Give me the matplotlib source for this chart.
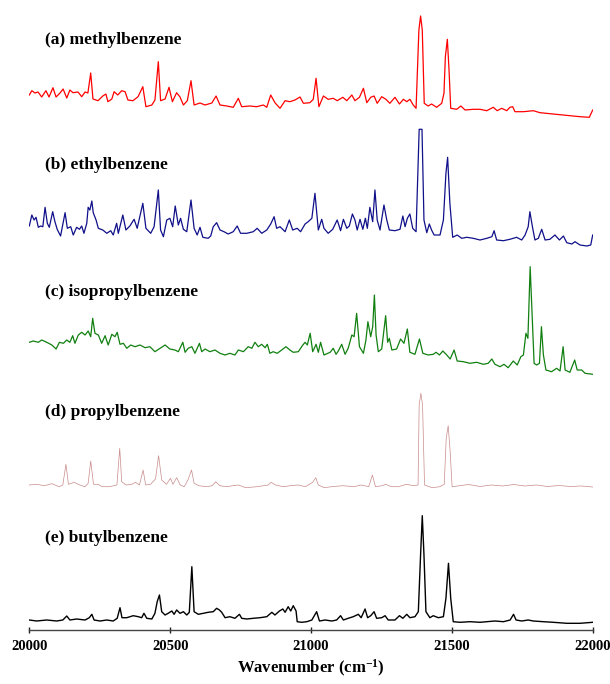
import matplotlib
matplotlib.use('Agg')
import matplotlib.pyplot as plt

plt.rcParams['font.family'] = ['Liberation Serif', 'DejaVu Serif']
plt.rcParams['font.weight'] = 'bold'
plt.rcParams['mathtext.fontset'] = 'custom'
plt.rcParams['mathtext.bf'] = 'Liberation Serif:bold'
plt.rcParams['mathtext.rm'] = 'Liberation Serif:bold'
plt.rcParams['mathtext.default'] = 'bf'

# (a) methylbenzene
a_wn = [20000, 20009, 20020, 20031, 20044, 20059, 20070, 20084, 20095, 20109, 20120, 20133, 20144, 20155,
        20173, 20186, 20198, 20208, 20218, 20226, 20244, 20261, 20272, 20279, 20293, 20301, 20314, 20328,
        20340, 20350, 20368, 20386, 20403, 20414, 20435, 20446, 20458, 20466, 20482, 20496, 20508, 20523,
        20535, 20547, 20561, 20574, 20585, 20606, 20624, 20648, 20663, 20677, 20701, 20724, 20742, 20754,
        20783, 20807, 20831, 20843, 20857, 20872, 20890, 20908, 20925, 20943, 20961, 20973, 20996, 21008,
        21018, 21028, 21044, 21061, 21079, 21093, 21113, 21127, 21145, 21156, 21172, 21186, 21198, 21212,
        21224, 21235, 21251, 21266, 21280, 21298, 21314, 21328, 21340, 21351, 21363, 21373, 21383, 21389,
        21395, 21402, 21416, 21428, 21446, 21464, 21472, 21477, 21484, 21490, 21496, 21517, 21532, 21547,
        21576, 21600, 21624, 21647, 21661, 21677, 21695, 21706, 21716, 21724, 21754, 21789, 21813, 21860,
        21908, 21955, 21988, 22000]
a_int = [25, 29.3, 27, 28, 23, 29.3, 23, 32.3, 23, 27, 31, 22, 30, 27.3,
         28, 23.3, 28, 27, 47, 21, 19.3, 24, 26, 18.3, 21, 28.3, 25, 29.3,
         28.3, 20, 19.3, 23.3, 33.3, 13.3, 15, 20, 58.3, 19.3, 21, 32.7, 18.3, 27.3,
         23, 15, 19.3, 39.3, 15, 17, 15, 17, 24, 15, 14, 12.7, 21.7, 13.3,
         14, 13.3, 15, 12.7, 25, 17.3, 11.7, 19.3, 18.3, 20, 23, 16.7, 17.3, 20.7,
         41.7, 13.3, 24, 20.7, 21.7, 19.3, 22.7, 19.3, 25, 19.3, 22.7, 31.7, 17.3, 22.7,
         24, 16.7, 23.3, 20.7, 16.7, 22.7, 16, 20.7, 18.3, 20.7, 15, 11.7, 90, 104,
         90, 16.7, 14, 16, 12.7, 16.7, 26.7, 63.3, 80.7, 50, 11.7, 10.7, 14, 10,
         10.7, 10.7, 9.3, 12.7, 9.3, 11.7, 9.3, 12.7, 13.3, 8.3, 8.3, 9.3, 7.3, 6,
         4.7, 3.3, 2.7, 10]

# (b) ethylbenzene
b_wn = [20000, 20009, 20017, 20024, 20032, 20040, 20048, 20056, 20064, 20071, 20083, 20091, 20099, 20111,
        20127, 20135, 20147, 20156, 20168, 20178, 20186, 20194, 20204, 20209, 20215, 20222, 20227, 20237,
        20245, 20261, 20275, 20289, 20298, 20310, 20316, 20332, 20343, 20357, 20372, 20383, 20403, 20414,
        20431, 20443, 20458, 20466, 20476, 20488, 20499, 20509, 20518, 20529, 20537, 20547, 20559, 20574,
        20585, 20596, 20606, 20616, 20635, 20644, 20653, 20665, 20677, 20691, 20706, 20724, 20738, 20750,
        20772, 20795, 20809, 20825, 20843, 20857, 20869, 20878, 20890, 20908, 20923, 20935, 20951, 20963,
        20979, 20990, 21003, 21014, 21026, 21038, 21046, 21061, 21077, 21093, 21105, 21115, 21127, 21136,
        21147, 21156, 21164, 21174, 21184, 21193, 21200, 21209, 21219, 21227, 21235, 21245, 21259, 21269,
        21278, 21298, 21316, 21326, 21334, 21342, 21351, 21361, 21373, 21384, 21394, 21401, 21411, 21420,
        21428, 21437, 21458, 21470, 21479, 21485, 21493, 21503, 21519, 21535, 21553, 21576, 21600, 21624,
        21642, 21650, 21659, 21683, 21706, 21730, 21748, 21760, 21771, 21777, 21786, 21795, 21807, 21819,
        21831, 21848, 21866, 21882, 21896, 21908, 21926, 21937, 21955, 21979, 21993, 22000]
b_int = [24, 35, 30, 32.7, 22.7, 24, 23.3, 42.7, 26.7, 22.7, 38.3, 28.3, 20.7, 14,
         37.3, 21.7, 23.3, 15, 22.7, 20.7, 24, 16.7, 26.7, 42.7, 40, 49, 37.3, 30,
         21.7, 20, 16.7, 19.3, 15, 26.7, 16.7, 35, 20, 24, 30.7, 21.7, 46.7, 21.7,
         16.7, 23.3, 60, 20, 13.3, 30, 31.7, 23.3, 44, 25, 31.7, 20.7, 18.3, 50,
         21.7, 15, 22.7, 12.7, 11.7, 14, 23.3, 27.3, 20, 18.3, 16, 18.3, 24, 16.7,
         16.7, 18.3, 21.7, 16.7, 20, 26, 33.3, 21.7, 23.3, 18.3, 30, 20, 21.7, 18.3,
         26, 28.3, 31.7, 56.7, 20, 30.7, 21.7, 16.7, 20.7, 30, 19.3, 30.7, 21.7, 24,
         36, 30, 20, 30.7, 20.7, 31.7, 21.7, 42.7, 28.3, 60, 30, 20, 45, 30,
         20, 19.3, 20.7, 34, 23.3, 31.7, 36, 21.7, 18.3, 120.7, 120.7, 30, 17.3, 26,
         20, 15, 15, 30, 76.7, 92.7, 46.7, 12.7, 15, 11.7, 12.7, 11.7, 10, 11.7,
         13.3, 19.3, 10, 9.3, 10.7, 12.7, 10, 15, 23.3, 38.3, 23.3, 10, 11.7, 20.7,
         10, 10.7, 15, 10, 14, 7.3, 6, 8.3, 5, 4, 5, 15]

# (c) isopropylbenzene
c_wn = [20000, 20014, 20032, 20044, 20062, 20080, 20095, 20107, 20121, 20133, 20144, 20154, 20162, 20174,
        20186, 20198, 20209, 20218, 20225, 20233, 20245, 20257, 20269, 20280, 20293, 20304, 20312, 20322,
        20334, 20346, 20360, 20375, 20393, 20411, 20428, 20446, 20464, 20482, 20499, 20517, 20529, 20545,
        20553, 20564, 20577, 20588, 20604, 20612, 20624, 20641, 20659, 20677, 20695, 20712, 20730, 20742,
        20760, 20777, 20790, 20801, 20813, 20825, 20837, 20845, 20854, 20866, 20880, 20896, 20911, 20925,
        20937, 20955, 20971, 20979, 20987, 20997, 21006, 21018, 21026, 21034, 21046, 21068, 21079, 21089,
        21097, 21109, 21121, 21132, 21145, 21153, 21162, 21172, 21186, 21195, 21202, 21212, 21219, 21225,
        21231, 21239, 21251, 21265, 21272, 21278, 21287, 21304, 21318, 21330, 21342, 21351, 21369, 21385,
        21397, 21416, 21434, 21444, 21456, 21468, 21482, 21494, 21508, 21519, 21541, 21564, 21588, 21612,
        21629, 21642, 21653, 21671, 21685, 21700, 21718, 21732, 21745, 21754, 21763, 21770, 21778, 21786,
        21792, 21801, 21811, 21818, 21825, 21834, 21854, 21872, 21884, 21895, 21902, 21919, 21936, 21945,
        21961, 21973, 22000]
c_int = [37.7, 39, 37.7, 40, 37.7, 35, 31, 37.7, 36.7, 40, 37.7, 44.3, 36.7, 45,
         47.7, 45, 49, 43.3, 61.7, 46.7, 45, 36.7, 44.3, 35, 45.7, 43.3, 47.7, 35.7,
         36.7, 31.7, 35, 33.3, 35, 32.3, 33.3, 28.3, 31.7, 35, 31, 30, 28.3, 37.7,
         27.7, 31.7, 33.3, 26.7, 36.7, 28.3, 31, 28.3, 30, 26.7, 25, 26.7, 25, 30,
         28.3, 33.3, 31.7, 37.7, 33.3, 35.7, 32.3, 35.7, 26.7, 28.3, 26.7, 30, 33.3, 30,
         27.7, 28.3, 35, 37.7, 35, 46.7, 28.3, 35.7, 27.7, 37.7, 25, 27.7, 31.7, 25.7,
         29, 35.7, 25.7, 31.7, 45, 43.3, 66.7, 33.3, 26.7, 40, 58.3, 43.3, 53.3, 85,
         45, 28.3, 31, 64.3, 37.7, 41.7, 30, 31, 41, 36.7, 51, 27.7, 25.7, 41,
         26.7, 25, 25.7, 27.7, 25, 29, 25, 21, 30, 19, 18.3, 16.7, 17.7, 15.7,
         16.7, 21, 15.7, 13.3, 15.7, 12.3, 19, 15, 23.3, 25, 46.7, 41.7, 113.3, 58.3,
         16.7, 15, 16.7, 53.3, 25, 10, 8.3, 11.7, 9, 33.3, 10, 7.7, 20, 10,
         10, 6.7, 5.7]

# (d) propylbenzene
d_wn = [20000, 20026, 20053, 20080, 20106, 20119, 20130, 20139, 20159, 20179, 20198, 20209, 20218, 20228,
        20245, 20258, 20285, 20311, 20321, 20328, 20344, 20364, 20377, 20391, 20404, 20413, 20430, 20448,
        20459, 20470, 20487, 20501, 20510, 20523, 20536, 20550, 20563, 20576, 20585, 20602, 20629, 20649,
        20662, 20676, 20702, 20722, 20742, 20768, 20808, 20848, 20858, 20874, 20901, 20927, 20954, 20980,
        21006, 21017, 21026, 21047, 21073, 21113, 21152, 21179, 21205, 21218, 21229, 21252, 21265, 21285,
        21311, 21338, 21364, 21380, 21384, 21390, 21396, 21403, 21430, 21457, 21473, 21480, 21487, 21494,
        21501, 21520, 21560, 21600, 21640, 21680, 21720, 21760, 21800, 21840, 21880, 21920, 21960, 22000]
d_int = [10, 10.7, 9.3, 11.3, 8.3, 10, 30.7, 10.7, 12.7, 10, 8.3, 11.7, 34, 10.7,
         10.7, 8.3, 8.3, 10, 46.7, 13.3, 10, 10.7, 12.7, 10, 25, 10, 10.7, 16,
         39.3, 15, 10.7, 16.7, 10.7, 17.3, 10, 8.3, 15, 25, 11.7, 9.3, 8.3, 9.3,
         13.3, 9.3, 8.3, 9.3, 10, 7.3, 8.3, 10, 12.7, 10, 8.3, 9.3, 10, 8.3,
         12.7, 17.3, 10, 7.3, 8.3, 9.3, 8.3, 10, 8.3, 20, 8.3, 9.3, 10.7, 8.3,
         8.3, 10.7, 9.3, 10, 90, 101.7, 90, 10, 7.3, 8.3, 10.7, 56.7, 69.3, 43.3,
         8.3, 9, 10.5, 8.5, 10, 9, 10.5, 9, 10, 8.5, 9.5, 8.5, 9, 8]

# (e) butylbenzene
e_wn = [20000, 20026, 20062, 20097, 20119, 20133, 20144, 20168, 20198, 20213, 20222, 20230, 20251, 20275,
        20298, 20312, 20322, 20329, 20346, 20369, 20387, 20399, 20407, 20417, 20435, 20446, 20454, 20462,
        20470, 20482, 20493, 20506, 20514, 20523, 20535, 20547, 20559, 20568, 20577, 20585, 20600, 20618,
        20635, 20653, 20665, 20675, 20683, 20695, 20712, 20730, 20746, 20754, 20772, 20795, 20819, 20843,
        20861, 20872, 20888, 20900, 20908, 20919, 20928, 20937, 20947, 20951, 20967, 20985, 21003, 21020,
        21030, 21050, 21074, 21091, 21105, 21115, 21132, 21150, 21168, 21178, 21192, 21201, 21212, 21224,
        21233, 21251, 21263, 21274, 21298, 21314, 21326, 21340, 21351, 21369, 21381, 21389, 21395, 21401,
        21408, 21422, 21434, 21452, 21470, 21479, 21488, 21496, 21505, 21529, 21565, 21600, 21624, 21653,
        21683, 21707, 21719, 21728, 21748, 21771, 21789, 21825, 21860, 21908, 21955, 22000]
e_int = [5, 4, 5, 4, 5, 9, 5, 6, 5, 7.3, 10.7, 5, 4, 5,
         4, 6.7, 17.3, 7.3, 7.3, 9.3, 8.3, 7.3, 11.7, 6.7, 6, 11.7, 23.3, 30,
         13.3, 10, 11.7, 14, 10.7, 15, 11.7, 13.3, 10, 12.7, 58.3, 13.3, 10.7, 11.7,
         12.7, 13.3, 16.7, 15, 12.7, 7.3, 8.3, 6.7, 10.7, 6.7, 6, 6.7, 7.3, 8.3,
         12.7, 10, 14, 16, 12.7, 18.3, 14, 19.3, 14, 3.3, 2.7, 3.3, 5, 13.3,
         4, 5, 4, 5, 9.3, 5, 6.7, 8.3, 10.7, 7.3, 16, 7.3, 9.3, 13.3,
         6.7, 7.3, 9.3, 5, 5, 9.3, 6.7, 10.7, 7.3, 8.3, 13.3, 70, 109.3, 70,
         13.3, 7.3, 9.3, 7.3, 8.3, 26.7, 61.7, 26.7, 3.3, 2.7, 3.3, 2.7, 3.3, 4,
         3.3, 5, 10.7, 5, 4, 5, 4, 3.3, 2.7, 1.7, 1.7, 2.7]

names = ['(a) methylbenzene', '(b) ethylbenzene', '(c) isopropylbenzene',
         '(d) propylbenzene', '(e) butylbenzene']
ticks = [20000, 20500, 21000, 21500, 22000]

# layout / styles
offsets = [510, 380, 250, 135, 5]
label_y = [590, 465, 338, 218, 92]
colors = ['#ff0000', '#10108a', '#118011', '#c98a8a', '#000000']
widths = [0.9, 0.9, 0.9, 0.5, 1.0]

fig = plt.figure(figsize=(6.10, 6.84), dpi=100)
ax = fig.add_axes([29.3 / 610, 54 / 684, 563.4 / 610, 620 / 684])

series = [(a_wn, a_int), (b_wn, b_int), (c_wn, c_int), (d_wn, d_int), (e_wn, e_int)]
for (wn, inten), off, col, lw, name, ly in zip(series, offsets, colors, widths, names, label_y):
    ax.plot(wn, [v + off for v in inten], color=col, lw=lw)
    ax.text(20055, ly, name, fontsize=12.5, fontweight='bold', ha='left', va='center')

ax.set_xlim(20000, 22000)
ax.set_ylim(0, 620)
for s in ['top', 'left', 'right']:
    ax.spines[s].set_visible(False)
ax.spines['bottom'].set_color('#444444')
ax.spines['bottom'].set_linewidth(1.0)
ax.set_yticks([])
ax.set_xticks(ticks)
ax.set_xticklabels([str(t) for t in ticks])
ax.tick_params(axis='x', direction='inout', length=4, width=1, colors='#222222',
               labelsize=10.5, pad=5)
for lab in ax.get_xticklabels():
    lab.set_fontweight('bold')
    lab.set_color('black')

fig.text((29.3 + 563.4 / 2) / 610, 16 / 684, 'Wavenumber (cm$^{-1}$)',
         fontsize=12, fontweight='bold', ha='center', va='center')

fig.savefig('out.png', dpi=100)
